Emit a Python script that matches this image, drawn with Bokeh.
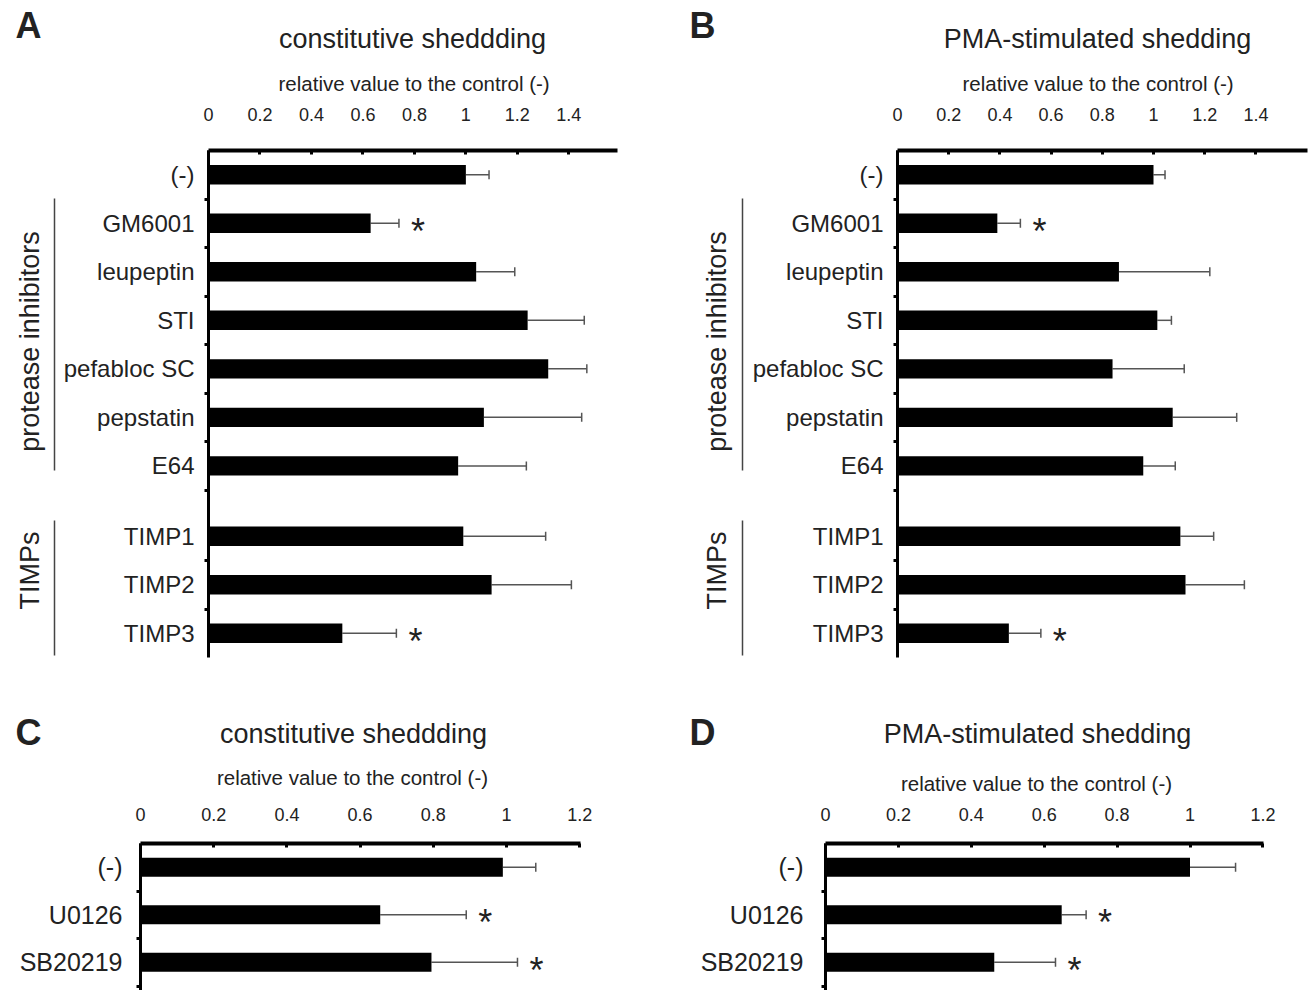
import math
from bokeh.plotting import figure
from bokeh.models import (Range1d, FixedTicker, ColumnDataSource, Whisker, TeeHead, Title)
from bokeh.layouts import column, row
from bokeh.embed import file_html
from bokeh.resources import INLINE
from bokeh.core.properties import value

FONT = "Liberation Sans"
TXT = "#222222"
ERRC = "#555555"

# ---------------- data ----------------
cats_AB = ["(-)", "GM6001", "leupeptin", "STI", "pefabloc SC", "pepstatin", "E64",
           "TIMP1", "TIMP2", "TIMP3"]
groups_AB = ["control", "protease inhibitors", "protease inhibitors", "protease inhibitors",
             "protease inhibitors", "protease inhibitors", "protease inhibitors",
             "TIMPs", "TIMPs", "TIMPs"]

a_mean = [1.00, 0.63, 1.04, 1.24, 1.32, 1.07, 0.97, 0.99, 1.10, 0.52]
a_err = [0.09, 0.11, 0.15, 0.22, 0.15, 0.38, 0.265, 0.32, 0.31, 0.21]
a_sig = [False, True, False, False, False, False, False, False, False, True]

b_mean = [1.00, 0.39, 0.865, 1.015, 0.84, 1.075, 0.96, 1.105, 1.125, 0.435]
b_err = [0.045, 0.09, 0.355, 0.055, 0.28, 0.25, 0.125, 0.13, 0.23, 0.125]
b_sig = [False, True, False, False, False, False, False, False, False, True]

cats_CD = ["(-)", "U0126", "SB20219"]
groups_CD = ["control", "inhibitor", "inhibitor"]
c_mean = [0.99, 0.655, 0.795]
c_err = [0.09, 0.235, 0.235]
c_sig = [False, True, True]

d_mean = [1.00, 0.648, 0.463]
d_err = [0.125, 0.067, 0.168]
d_sig = [False, True, True]

x_ticks_AB = [0, 0.2, 0.4, 0.6, 0.8, 1, 1.2, 1.4]
x_labels_AB = ["0", "0.2", "0.4", "0.6", "0.8", "1", "1.2", "1.4"]
x_ticks_CD = [0, 0.2, 0.4, 0.6, 0.8, 1, 1.2]
x_labels_CD = ["0", "0.2", "0.4", "0.6", "0.8", "1", "1.2"]

panel_letters = ["A", "B", "C", "D"]
title_const = "constitutive sheddding"
title_pma = "PMA-stimulated shedding"
axis_title = "relative value to the control (-)"
bracket_groups = ["protease inhibitors", "TIMPs"]


def row_positions(groups, step=100, gap=45):
    pos, cur = [], 0
    for i, g in enumerate(groups):
        if i > 0:
            cur += step
            if g == "TIMPs" and groups[i - 1] != "TIMPs":
                cur += gap
        pos.append(cur)
    return pos


def make_panel(cats, groups, mean, err, sig, ticks, tlabels, L):
    pos = row_positions(groups)
    y_top = -50
    frame_w = L["w"] - L["mbl"] - L["mbr"]
    frame_h = L["h"] - L["mbt"] - L["mbb"]
    y_bot = y_top + frame_h / L["ppu_y"]
    x_end = frame_w / L["ppu_x"]
    p = figure(width=L["w"], height=L["h"], x_range=Range1d(0, x_end),
               y_range=Range1d(y_bot, y_top), x_axis_location="above",
               output_backend="svg", toolbar_location=None,
               min_border_left=L["mbl"], min_border_right=L["mbr"],
               min_border_top=L["mbt"], min_border_bottom=L["mbb"])
    p.xgrid.visible = False
    p.ygrid.visible = False
    p.outline_line_color = None

    hi = [m + e for m, e in zip(mean, err)]
    src = ColumnDataSource(dict(y=pos, v=mean, hi=hi))
    p.hbar(y="y", left=0, right="v", height=40, source=src,
           fill_color="black", line_color=None)
    wh = Whisker(source=src, base="y", lower="v", upper="hi", dimension="width",
                 line_color=ERRC, line_width=1.5, lower_head=None,
                 upper_head=TeeHead(size=9, line_color=ERRC, line_width=1.5))
    p.add_layout(wh)

    sx = [h for h, s in zip(hi, sig) if s]
    sy = [y for y, s in zip(pos, sig) if s]
    ssrc = ColumnDataSource(dict(x=sx, y=sy, t=["*"] * len(sx)))
    p.text(x="x", y="y", text="t", source=ssrc, x_offset=19, y_offset=8,
           text_align="center", text_baseline="middle", text_font=value(FONT),
           text_font_size="36px", text_color=TXT)

    xa = p.xaxis[0]
    xa.ticker = FixedTicker(ticks=ticks)
    xa.major_label_overrides = {t: l for t, l in zip(ticks, tlabels)}
    xa.axis_line_width = 4
    xa.axis_line_color = "black"
    xa.major_tick_in = 4
    xa.major_tick_out = 0
    xa.major_tick_line_width = 3
    xa.minor_tick_line_color = None
    xa.major_label_text_font = FONT
    xa.major_label_text_font_size = "18px"
    xa.major_label_text_color = TXT
    xa.major_label_standoff = L["xstand"]

    ya = p.yaxis[0]
    ya.ticker = FixedTicker(ticks=pos, minor_ticks=[q + 50 for q in pos])
    ya.major_label_overrides = {q: c for q, c in zip(pos, cats)}
    ya.major_tick_line_color = None
    ya.minor_tick_in = 0
    ya.minor_tick_out = 4
    ya.minor_tick_line_width = 3
    ya.axis_line_width = 3
    ya.axis_line_color = "black"
    ya.major_label_text_font = FONT
    ya.major_label_text_font_size = L["cat_fs"]
    ya.major_label_text_color = TXT
    ya.major_label_standoff = L["ystand"]

    if L.get("ax_title", False):
        p.add_layout(Title(text=axis_title, align="left", offset=L["ax_off"],
                           standoff=L["ax_stand"], text_font=FONT,
                           text_font_size="20.5px", text_font_style="normal",
                           text_color=TXT), "above")

    ft = L["y0"] + L["mbt"]
    dy = lambda py: y_top + (py - ft) / L["ppu_y"]
    return p, dy


def make_bracket(pmain, dy, x0, w, L, spans):
    g = figure(width=w, height=L["h"], x_range=Range1d(x0, x0 + w),
               y_range=pmain.y_range, output_backend="svg", toolbar_location=None,
               min_border_left=0, min_border_right=0,
               min_border_top=L["mbt"], min_border_bottom=L["mbb"])
    g.axis.visible = False
    g.xgrid.visible = False
    g.ygrid.visible = False
    g.outline_line_color = None
    names = [s[0] for s in spans]
    src = dict(tx=[s[1] for s in spans], ty=[dy(s[2]) for s in spans], t=names,
               lx=[s[3] for s in spans], ly0=[dy(s[4]) for s in spans],
               ly1=[dy(s[5]) for s in spans])
    src = ColumnDataSource(src)
    g.segment(x0="lx", y0="ly0", x1="lx", y1="ly1", source=src,
              line_color="#444444", line_width=1.5)
    g.text(x="tx", y="ty", text="t", source=src, angle=math.pi / 2,
           text_align="center", text_baseline="middle", text_font=value(FONT),
           text_font_size="27px", text_color=TXT)
    return g


def make_strip(y0, h, items):
    s = figure(width=1313, height=h, x_range=Range1d(0, 1313), y_range=Range1d(y0 + h, y0),
               output_backend="svg", toolbar_location=None,
               min_border_left=0, min_border_right=0, min_border_top=0, min_border_bottom=0)
    s.axis.visible = False
    s.xgrid.visible = False
    s.ygrid.visible = False
    s.outline_line_color = None
    for text, x, y, size, style in items:
        s.text(x=[x], y=[y], text=[text], text_align="center", text_baseline="middle",
               text_font=value(FONT), text_font_size=size, text_font_style=style,
               text_color=TXT)
    return s


LA = dict(y0=60, w=600, h=620, mbl=147, mbr=43, mbt=90, mbb=23, ppu_x=258,
          ppu_y=0.4852, xstand=30, ystand=8, cat_fs="24px",
          ax_title=True, ax_off=70, ax_stand=19)
LB = dict(y0=60, w=565, h=620, mbl=149, mbr=6, mbt=90, mbb=23, ppu_x=256,
          ppu_y=0.4852, xstand=30, ystand=8, cat_fs="24px",
          ax_title=True, ax_off=65, ax_stand=19)
LC = dict(y0=796, w=660, h=194, mbl=140, mbr=80, mbt=47, mbb=0, ppu_x=366,
          ppu_y=0.475, xstand=23, ystand=12, cat_fs="25px")
LD = dict(y0=796, w=653, h=194, mbl=165, mbr=50, mbt=47, mbb=0, ppu_x=364.5,
          ppu_y=0.475, xstand=23, ystand=16, cat_fs="25px")

pA, dyA = make_panel(cats_AB, groups_AB, a_mean, a_err, a_sig, x_ticks_AB, x_labels_AB, LA)
pB, dyB = make_panel(cats_AB, groups_AB, b_mean, b_err, b_sig, x_ticks_AB, x_labels_AB, LB)
pC, _ = make_panel(cats_CD, groups_CD, c_mean, c_err, c_sig, x_ticks_CD, x_labels_CD, LC)
pD, _ = make_panel(cats_CD, groups_CD, d_mean, d_err, d_sig, x_ticks_CD, x_labels_CD, LD)

gA = make_bracket(pA, dyA, 0, 60, LA,
                  [(bracket_groups[0], 29, 341, 54, 198, 470),
                   (bracket_groups[1], 29, 570, 54, 520, 655)])
gB = make_bracket(pB, dyB, 660, 88, LB,
                  [(bracket_groups[0], 716, 341, 742, 198, 470),
                   (bracket_groups[1], 716, 570, 742, 520, 655)])

strip1 = make_strip(0, 60, [(panel_letters[0], 28, 25, "36px", "bold"),
                            (title_const, 412, 38, "27px", "normal"),
                            (panel_letters[1], 702, 25, "36px", "bold"),
                            (title_pma, 1097, 38, "27px", "normal")])
strip2 = make_strip(680, 116, [(panel_letters[2], 28, 732, "36px", "bold"),
                               (title_const, 353, 733, "27px", "normal"),
                               (axis_title, 352, 777, "20.5px", "normal"),
                               (panel_letters[3], 702, 732, "36px", "bold"),
                               (title_pma, 1037, 733, "27px", "normal"),
                               (axis_title, 1036, 783, "20.5px", "normal")])

layout = column(strip1, row(gA, pA, gB, pB), strip2, row(pC, pD))
open("out.html", "w").write(file_html(layout, INLINE))
